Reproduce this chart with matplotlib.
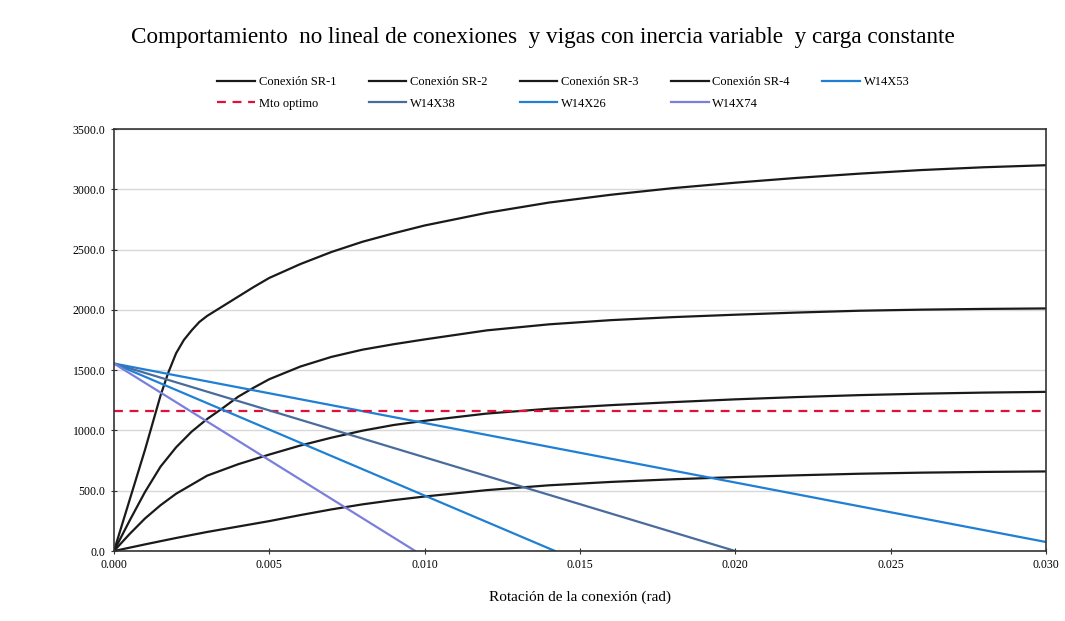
import matplotlib
matplotlib.use("Agg")
import matplotlib.pyplot as plt
from matplotlib.ticker import FormatStrFormatter

plt.rcParams['font.family'] = ['Liberation Serif', 'DejaVu Serif']

# Curvas momento-rotacion de las conexiones
rot_sr1 = [0.0, 0.0005, 0.001, 0.0015, 0.00175, 0.002, 0.00225, 0.0025, 0.00275, 0.003,
           0.0035, 0.004, 0.0045, 0.005, 0.006, 0.007, 0.008, 0.009, 0.010, 0.012,
           0.014, 0.016, 0.018, 0.020, 0.022, 0.024, 0.026, 0.028, 0.030]
mom_sr1 = [0.0, 420, 840, 1290, 1480, 1640, 1750, 1830, 1900, 1950,
           2030, 2110, 2190, 2265, 2380, 2480, 2565, 2635, 2700, 2805,
           2890, 2955, 3010, 3055, 3095, 3130, 3160, 3183, 3200]

rot_sr2 = [0.0, 0.0005, 0.001, 0.0015, 0.002, 0.0025, 0.003, 0.0035, 0.004, 0.0045,
           0.005, 0.006, 0.007, 0.008, 0.009, 0.010, 0.012, 0.014, 0.016, 0.018,
           0.020, 0.022, 0.024, 0.026, 0.028, 0.030]
mom_sr2 = [0.0, 250, 490, 700, 860, 990, 1095, 1185, 1280, 1355,
           1425, 1530, 1610, 1670, 1715, 1755, 1830, 1880, 1915, 1940,
           1960, 1978, 1993, 2002, 2008, 2012]

rot_sr3 = [0.0, 0.0005, 0.001, 0.0015, 0.002, 0.003, 0.004, 0.005, 0.006, 0.007,
           0.008, 0.009, 0.010, 0.012, 0.014, 0.016, 0.018, 0.020, 0.022, 0.024,
           0.026, 0.028, 0.030]
mom_sr3 = [0.0, 140, 270, 380, 475, 625, 720, 800, 875, 940,
           998, 1045, 1080, 1140, 1180, 1210, 1235, 1258, 1277, 1293,
           1305, 1314, 1320]

rot_sr4 = [0.0, 0.001, 0.002, 0.003, 0.004, 0.005, 0.006, 0.007, 0.008, 0.009,
           0.010, 0.012, 0.014, 0.016, 0.018, 0.020, 0.022, 0.024, 0.026, 0.028, 0.030]
mom_sr4 = [0.0, 55, 108, 158, 203, 248, 298, 345, 387, 422,
           452, 505, 545, 573, 595, 613, 628, 641, 650, 656, 660]

# Lineas de viga (momento en el extremo vs rotacion)
m_empotrado = 1555.0
rot_w14x53 = [0.0, 0.030]
mom_w14x53 = [m_empotrado, 75.0]
rot_w14x38 = [0.0, 0.0200]
mom_w14x38 = [m_empotrado, 0.0]
rot_w14x26 = [0.0, 0.0142]
mom_w14x26 = [m_empotrado, 0.0]
rot_w14x74 = [0.0, 0.0097]
mom_w14x74 = [m_empotrado, 0.0]

mto_optimo = 1165.0

fig = plt.figure(figsize=(10.65, 6.21), dpi=100)
ax = fig.add_axes([0.107, 0.1127, 0.875, 0.6795])

lw = 1.6
h_sr1, = ax.plot(rot_sr1, mom_sr1, color='#1a1a1a', lw=lw, label='Conexión SR-1')
h_sr2, = ax.plot(rot_sr2, mom_sr2, color='#1a1a1a', lw=lw, label='Conexión SR-2')
h_sr3, = ax.plot(rot_sr3, mom_sr3, color='#1a1a1a', lw=lw, label='Conexión SR-3')
h_sr4, = ax.plot(rot_sr4, mom_sr4, color='#1a1a1a', lw=lw, label='Conexión SR-4')
h_53, = ax.plot(rot_w14x53, mom_w14x53, color='#1f7fd4', lw=lw, label='W14X53')
h_mto = ax.axhline(mto_optimo, color='#e0103c', lw=lw, ls=(0, (4, 3)), label='Mto optimo')
h_38, = ax.plot(rot_w14x38, mom_w14x38, color='#4a6c9c', lw=lw, label='W14X38')
h_26, = ax.plot(rot_w14x26, mom_w14x26, color='#1f80d4', lw=lw, label='W14X26')
h_74, = ax.plot(rot_w14x74, mom_w14x74, color='#7b7fdc', lw=lw, label='W14X74')

ax.set_xlim(0, 0.030)
ax.set_ylim(0, 3500)
ax.set_xticks([0.0, 0.005, 0.010, 0.015, 0.020, 0.025, 0.030])
ax.set_yticks(range(0, 3501, 500))
ax.xaxis.set_major_formatter(FormatStrFormatter('%.3f'))
ax.yaxis.set_major_formatter(FormatStrFormatter('%.1f'))
ax.tick_params(labelsize=8.5, direction='inout', length=5, color='#333333')
ax.grid(axis='y', color='#d8d8d8', lw=1)
ax.set_axisbelow(True)
for s in ax.spines.values():
    s.set_color('#333333')
    s.set_linewidth(1.2)

ax.set_xlabel('Rotación de la conexión (rad)', fontsize=11, labelpad=14)
fig.text(0.51, 0.94, 'Comportamiento  no lineal de conexiones  y vigas con inercia variable  y carga constante',
         ha='center', va='center', fontsize=16.7)

handles = [h_sr1, h_mto, h_sr2, h_38, h_sr3, h_26, h_sr4, h_74, h_53]
fig.legend(handles=handles, labels=[h.get_label() for h in handles], ncol=5,
           loc='center', bbox_to_anchor=(0.529, 0.85), frameon=False, fontsize=9,
           handlelength=3.0, columnspacing=2.6, labelspacing=0.75, handletextpad=0.3)

fig.savefig('out.png', dpi=100)
